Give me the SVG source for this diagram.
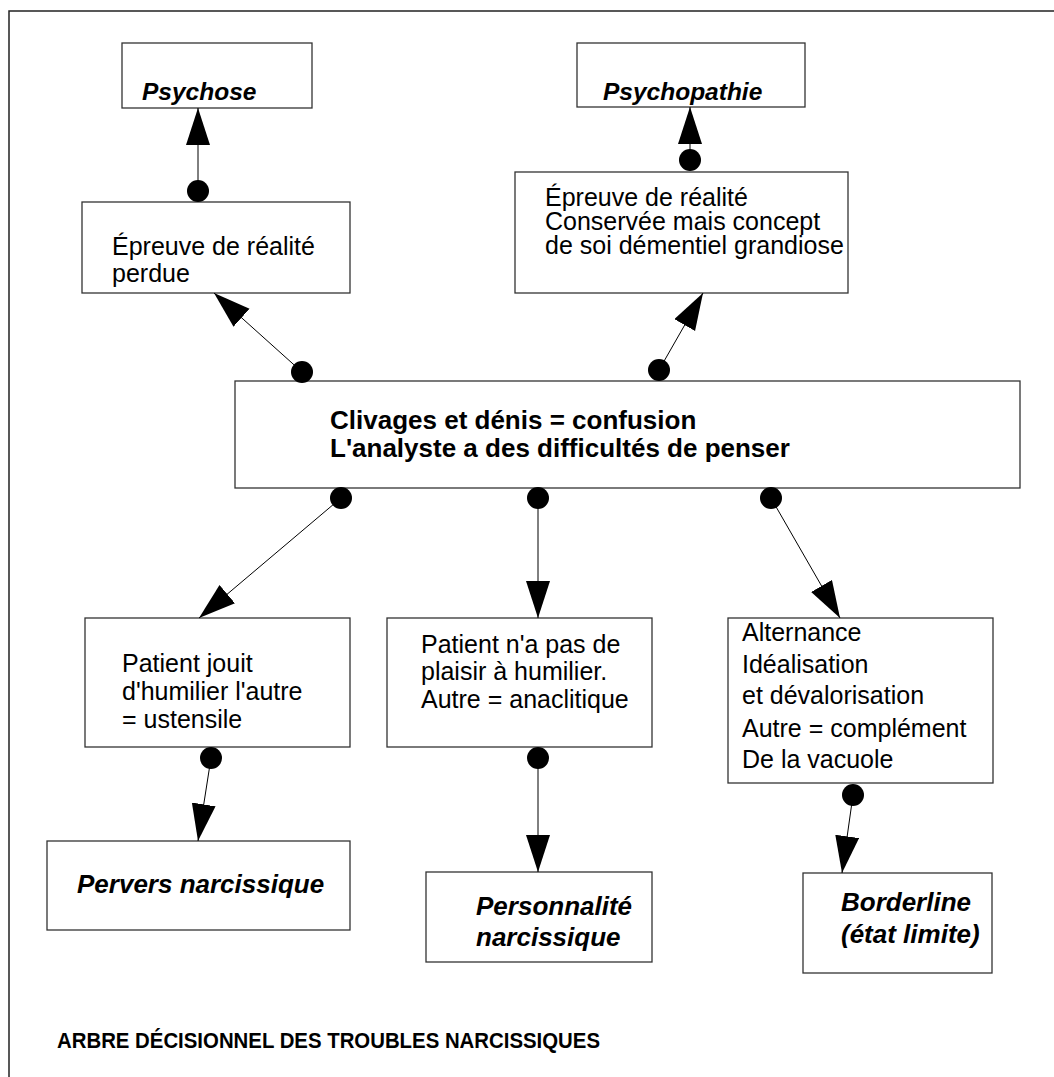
<svg xmlns="http://www.w3.org/2000/svg" width="1054" height="1077" viewBox="0 0 1054 1077">
  <style>
    .box { fill: #ffffff; stroke: #333333; stroke-width: 1.3; }
    .txt { font-family: "Liberation Sans", Arial, sans-serif; font-size: 25px; fill: #000000; }
    .bi { font-family: "Liberation Sans", Arial, sans-serif; font-size: 24.5px; font-weight: bold; font-style: italic; fill: #000000; }
    .bi.lg { font-size: 26px; }
    .b { font-family: "Liberation Sans", Arial, sans-serif; font-size: 26px; font-weight: bold; fill: #000000; }
    .title { font-family: "Liberation Sans", Arial, sans-serif; font-size: 22px; font-weight: bold; fill: #000000; }
    .link { fill: none; stroke: #000000; stroke-width: 1; marker-start: url(#dot); marker-end: url(#arrow); }
  </style>
  <defs>
    <marker id="arrow" markerUnits="userSpaceOnUse" markerWidth="40" markerHeight="26" refX="37" refY="12" orient="auto">
      <path d="M0,0 L37,12 L0,24 Z" fill="#000000"/>
    </marker>
    <marker id="dot" markerUnits="userSpaceOnUse" markerWidth="24" markerHeight="24" refX="12" refY="12">
      <circle cx="12" cy="12" r="11" fill="#000000"/>
    </marker>
  </defs>

  <rect width="1054" height="1077" fill="#ffffff"/>
  <!-- page frame -->
  <path d="M9,1077 V11 H1054" fill="none" stroke="#222222" stroke-width="1.5"/>

  <g id="psychose">
    <rect class="box" x="122" y="43" width="190" height="65"/>
    <text class="bi" x="142" y="100">Psychose</text>
  </g>

  <g id="psychopathie">
    <rect class="box" x="577" y="43" width="228" height="64"/>
    <text class="bi" x="603" y="100">Psychopathie</text>
  </g>

  <g id="realite-perdue">
    <rect class="box" x="82" y="202" width="268" height="91"/>
    <text class="txt" x="112" y="255">Épreuve de réalité</text>
    <text class="txt" x="112" y="282">perdue</text>
  </g>

  <g id="realite-conservee">
    <rect class="box" x="515" y="172" width="333" height="121"/>
    <text class="txt" x="545" y="206">Épreuve de réalité</text>
    <text class="txt" x="545" y="230">Conservée mais concept</text>
    <text class="txt" x="545" y="254">de soi démentiel grandiose</text>
  </g>

  <g id="clivages">
    <rect class="box" x="235" y="381" width="785" height="107"/>
    <text class="b" x="330" y="429">Clivages et dénis = confusion</text>
    <text class="b" x="330" y="457">L'analyste a des difficultés de penser</text>
  </g>

  <g id="jouit">
    <rect class="box" x="85" y="618" width="265" height="129"/>
    <text class="txt" x="122" y="672">Patient jouit</text>
    <text class="txt" x="122" y="700">d'humilier l'autre</text>
    <text class="txt" x="122" y="728">= ustensile</text>
  </g>

  <g id="pas-de-plaisir">
    <rect class="box" x="387" y="618" width="265" height="129"/>
    <text class="txt" x="421" y="653">Patient n'a pas de</text>
    <text class="txt" x="421" y="680">plaisir à humilier.</text>
    <text class="txt" x="421" y="708">Autre = anaclitique</text>
  </g>

  <g id="alternance">
    <rect class="box" x="728" y="618" width="265" height="165"/>
    <text class="txt" x="742" y="641">Alternance</text>
    <text class="txt" x="742" y="673">Idéalisation</text>
    <text class="txt" x="742" y="704">et dévalorisation</text>
    <text class="txt" x="742" y="737">Autre = complément</text>
    <text class="txt" x="742" y="768">De la vacuole</text>
  </g>

  <g id="pervers">
    <rect class="box" x="47" y="841" width="303" height="89"/>
    <text class="bi lg" x="77" y="893">Pervers narcissique</text>
  </g>

  <g id="personnalite">
    <rect class="box" x="426" y="872" width="226" height="90"/>
    <text class="bi lg" x="476" y="915">Personnalité</text>
    <text class="bi lg" x="476" y="946">narcissique</text>
  </g>

  <g id="borderline">
    <rect class="box" x="803" y="873" width="189" height="100"/>
    <text class="bi lg" x="841" y="911">Borderline</text>
    <text class="bi lg" x="841" y="943">(état limite)</text>
  </g>

  <g id="connectors">
    <line class="link" x1="198" y1="191" x2="198" y2="108"/>
    <line class="link" x1="690" y1="160" x2="690" y2="107"/>
    <line class="link" x1="302" y1="372" x2="214" y2="293"/>
    <line class="link" x1="659" y1="370" x2="703" y2="293"/>
    <line class="link" x1="341" y1="498" x2="199" y2="618"/>
    <line class="link" x1="538" y1="498" x2="538" y2="618"/>
    <line class="link" x1="771" y1="498" x2="840" y2="618"/>
    <line class="link" x1="211" y1="758" x2="198" y2="841"/>
    <line class="link" x1="538" y1="758" x2="538" y2="872"/>
    <line class="link" x1="853" y1="795" x2="842" y2="873"/>
  </g>

  <text class="title" x="57" y="1048" textLength="543" lengthAdjust="spacingAndGlyphs">ARBRE DÉCISIONNEL DES TROUBLES NARCISSIQUES</text>
</svg>
